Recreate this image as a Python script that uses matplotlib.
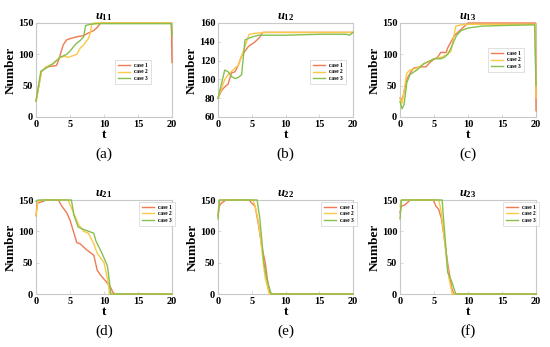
import matplotlib
matplotlib.use("Agg")
import matplotlib.pyplot as plt
import numpy as np

plt.rcParams['font.family'] = ['Liberation Serif', 'DejaVu Serif']
plt.rcParams['mathtext.fontset'] = 'custom'
plt.rcParams['mathtext.it'] = 'Liberation Serif:italic:bold'
plt.rcParams['mathtext.rm'] = 'Liberation Serif:bold'

labels = ['case 1', 'case 2', 'case 3']
colors = ['#f07a52', '#fcc847', '#86c04e']

# ---- u11 ----
u11_c1_t = [0, 0.8, 1.5, 3, 3.3, 4, 4.5, 5, 6, 7, 7.5, 8.5, 9, 9.5, 19.9, 20]
u11_c1_y = [25, 72, 80, 82, 90, 115, 123, 125, 128, 130, 133, 138, 143, 150, 150, 87]
u11_c2_t = [0, 0.8, 1.5, 2.5, 3.5, 4.3, 4.6, 5.5, 6, 6.5, 7, 7.7, 8, 8.2, 8.5, 19.9, 20]
u11_c2_y = [25, 72, 80, 85, 95, 97, 95, 98, 100, 110, 115, 125, 135, 148, 150, 150, 140]
u11_c3_t = [0, 0.7, 1.5, 2.5, 3.5, 4.5, 5, 5.5, 6, 6.5, 7, 7.3, 8, 9, 19.9, 20]
u11_c3_y = [25, 73, 78, 85, 95, 100, 105, 112, 118, 122, 128, 146, 148, 149, 149, 130]

# ---- u12 ----
u12_c1_t = [0, 0.5, 1, 1.5, 2, 2.5, 3, 3.5, 4, 4.5, 5.5, 6.2, 6.6, 9.5, 20]
u12_c1_y = [80, 88, 92, 95, 107, 108, 115, 125, 130, 135, 140, 145, 150, 150, 150]
u12_c2_t = [0, 0.5, 1, 1.5, 2.2, 3, 3.5, 4, 4.6, 5.5, 7, 20]
u12_c2_y = [80, 90, 100, 105, 110, 115, 125, 135, 148, 149, 150, 150]
u12_c3_t = [0, 0.5, 1, 1.5, 2, 2.5, 3, 3.5, 4, 5, 6, 10, 15, 19, 19.5, 20]
u12_c3_y = [80, 95, 110, 108, 103, 101, 102, 105, 142, 145, 147, 147, 148, 148, 147, 150]

# ---- u13 ----
u13_c1_t = [0, 0.3, 0.5, 1, 1.5, 2, 3, 3.8, 4.5, 5, 5.5, 6, 6.8, 7, 7.5, 8, 9, 9.5, 10, 19.9, 20]
u13_c1_y = [30, 28, 35, 60, 70, 78, 80, 80, 88, 92, 95, 103, 103, 110, 120, 130, 140, 145, 150, 150, 10]
u13_c2_t = [0, 0.3, 0.5, 1, 1.5, 2.5, 3.5, 4.5, 5, 6, 7, 7.5, 8.2, 9, 10, 19.9, 20]
u13_c2_y = [30, 22, 35, 70, 75, 78, 85, 90, 93, 95, 100, 105, 145, 147, 148, 148, 30]
u13_c3_t = [0, 0.3, 0.6, 1, 1.5, 2.5, 3.5, 4.5, 5, 6, 6.5, 7, 7.5, 8.3, 9, 10, 12, 15, 19.8, 20]
u13_c3_y = [25, 13, 20, 55, 68, 75, 85, 90, 93, 93, 95, 100, 110, 130, 138, 142, 145, 146, 147, 50]

# ---- u21 ----
u21_c1_t = [0, 0.2, 0.8, 1.5, 3.3, 3.8, 4.5, 5, 5.5, 6, 6.5, 7, 7.5, 8.5, 9, 9.5, 10.3, 11, 11.3, 11.6, 20]
u21_c1_y = [125, 145, 147, 150, 150, 140, 130, 118, 100, 82, 80, 75, 70, 62, 38, 30, 20, 10, 3, 0, 0]
u21_c2_t = [0, 0.3, 1, 4.7, 5.5, 6.3, 7, 7.7, 8.5, 9, 10, 10.6, 10.8, 20]
u21_c2_y = [125, 148, 150, 150, 130, 110, 100, 97, 80, 65, 50, 20, 0, 0]
u21_c3_t = [0, 0.3, 5.2, 5.6, 6.2, 7, 8.5, 8.8, 9.7, 10.5, 10.8, 11, 20]
u21_c3_y = [148, 150, 150, 125, 107, 103, 97, 85, 65, 45, 20, 0, 0]

# ---- u22 ----
u22_c1_t = [0, 0.2, 0.5, 1.2, 4.6, 5, 5.5, 6, 6.5, 7, 7.3, 7.6, 7.8, 20]
u22_c1_y = [125, 140, 145, 150, 150, 145, 140, 110, 75, 50, 25, 5, 0, 0]
u22_c2_t = [0, 0.3, 5.2, 5.5, 5.9, 6.3, 6.7, 7, 7.6, 20]
u22_c2_y = [130, 150, 150, 140, 120, 90, 50, 25, 0, 0]
u22_c3_t = [0, 0.2, 5.8, 6.2, 6.5, 6.8, 7.2, 7.6, 7.9, 20]
u22_c3_y = [120, 150, 150, 120, 85, 50, 25, 10, 0, 0]

# ---- u23 ----
u23_c1_t = [0, 0.2, 0.7, 1.2, 1.5, 4.9, 5.3, 5.7, 6.1, 6.5, 7, 7.3, 7.6, 7.9, 20]
u23_c1_y = [130, 140, 142, 147, 150, 150, 140, 135, 120, 90, 50, 30, 10, 0, 0]
u23_c2_t = [0, 0.3, 5.7, 6, 6.4, 6.8, 7.2, 7.7, 20]
u23_c2_y = [140, 150, 150, 135, 100, 60, 25, 0, 0]
u23_c3_t = [0, 0.2, 6.2, 6.4, 6.7, 7, 7.6, 8.2, 20]
u23_c3_y = [120, 150, 150, 120, 80, 35, 20, 0, 0]

panels = [
    ('$u_{11}$', '(a)', [(u11_c1_t, u11_c1_y), (u11_c2_t, u11_c2_y), (u11_c3_t, u11_c3_y)], (0, 150), [0, 50, 100, 150]),
    ('$u_{12}$', '(b)', [(u12_c1_t, u12_c1_y), (u12_c2_t, u12_c2_y), (u12_c3_t, u12_c3_y)], (60, 160), [60, 80, 100, 120, 140, 160]),
    ('$u_{13}$', '(c)', [(u13_c1_t, u13_c1_y), (u13_c2_t, u13_c2_y), (u13_c3_t, u13_c3_y)], (0, 150), [0, 50, 100, 150]),
    ('$u_{21}$', '(d)', [(u21_c1_t, u21_c1_y), (u21_c2_t, u21_c2_y), (u21_c3_t, u21_c3_y)], (0, 150), [0, 50, 100, 150]),
    ('$u_{22}$', '(e)', [(u22_c1_t, u22_c1_y), (u22_c2_t, u22_c2_y), (u22_c3_t, u22_c3_y)], (0, 150), [0, 50, 100, 150]),
    ('$u_{23}$', '(f)', [(u23_c1_t, u23_c1_y), (u23_c2_t, u23_c2_y), (u23_c3_t, u23_c3_y)], (0, 150), [0, 50, 100, 150]),
]

W, H = 550, 347
fig = plt.figure(figsize=(5.5, 3.47), dpi=100)

lefts = [36, 218, 400]
widths = [136, 135, 136]
tops = [23, 200]
ah = 94
legend_locs = [
    (115, 60), (310, 60), (488, 48),
    (139, 202), (321, 202), (503, 202),
]

for i, (title, lab, series, ylim, yticks) in enumerate(panels):
    r, c = divmod(i, 3)
    l = lefts[c]; w = widths[c]; t = tops[r]
    ax = fig.add_axes([l / W, 1 - (t + ah) / H, w / W, ah / H])
    for (tt, yy), col, lb in zip(series, colors, labels):
        ax.plot(tt, yy, color=col, lw=1.0, label=lb, clip_on=False, zorder=3)
    ax.set_xlim(0, 20)
    ax.set_ylim(*ylim)
    ax.set_xticks([0, 5, 10, 15, 20])
    ax.set_yticks(yticks)
    for sp in ax.spines.values():
        sp.set_color('#c8c8c8')
        sp.set_linewidth(0.8)
    ax.tick_params(direction='in', length=2, width=0.5, color='#c8c8c8',
                   labelsize=7.5, pad=2)
    for tl in ax.get_xticklabels() + ax.get_yticklabels():
        tl.set_fontweight('bold')
    ax.set_title(title, fontsize=9, pad=2)
    ax.set_xlabel('t', fontsize=9.5, fontweight='bold', labelpad=0)
    ax.set_ylabel('Number', fontsize=9.5, fontweight='bold', labelpad=1)
    lx, ly = legend_locs[i]
    leg = ax.legend(loc='upper left',
                    bbox_to_anchor=(lx / W, 1 - ly / H),
                    bbox_transform=fig.transFigure,
                    prop={'family': 'Liberation Serif', 'weight': 'bold', 'size': 4},
                    frameon=True, fancybox=False, handlelength=2.2,
                    borderpad=0.5, labelspacing=0.3, handletextpad=0.8,
                    borderaxespad=0)
    leg.get_frame().set_edgecolor('#c8c8c8')
    leg.get_frame().set_linewidth(0.5)
    leg.set_zorder(5)
    fig.text((l + w / 2) / W, 1 - (t + 131) / H, lab, ha='center', va='center',
             fontsize=11)

fig.savefig('out.png', dpi=100)
